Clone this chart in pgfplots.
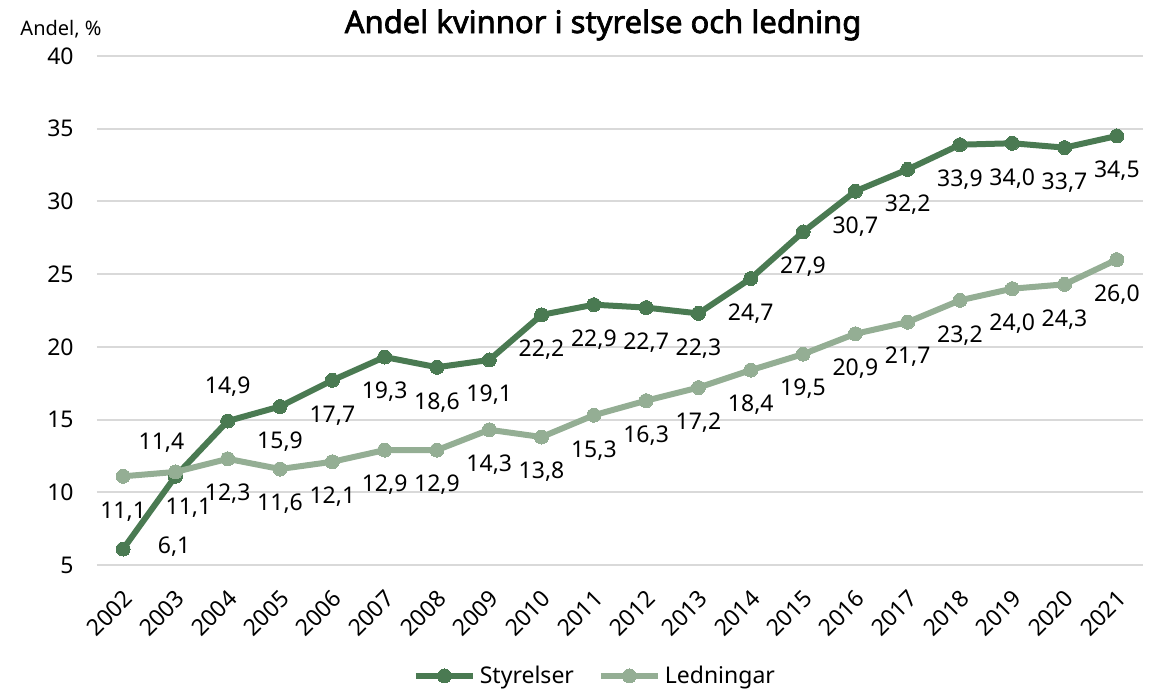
\documentclass[border=0pt]{standalone}
\usepackage{fontspec}
\setmainfont{Noto Sans}
\newfontfamily\titlefont{Noto Sans}[FakeBold=2.2]
\usepackage{pgfplots}
\usepackage{pgfplotstable}
\pgfplotsset{compat=1.18}
\definecolor{dgreen}{HTML}{4A7A52}
\definecolor{lgreen}{HTML}{94AE94}
\definecolor{gridgray}{HTML}{D9D9D9}

\pgfplotstableread{
x y dx dy
2002 6.1 25.5 1
2003 11.1 6.5 -15.5
2004 14.9 0 17
2005 15.9 0 -17.5
2006 17.7 0 -17.5
2007 19.3 0 -17.5
2008 18.6 0 -17.5
2009 19.1 0 -17.5
2010 22.2 0 -17.5
2011 22.9 0 -17.5
2012 22.7 0 -17.5
2013 22.3 0 -17.5
2014 24.7 0 -17.5
2015 27.9 0 -17.5
2016 30.7 0 -17.5
2017 32.2 0 -17.5
2018 33.9 0 -17.5
2019 34.0 0 -17.5
2020 33.7 0 -17.5
2021 34.5 0 -17.5
}\styrelser

\pgfplotstableread{
x y dx dy
2002 11.1 0 -17.5
2003 11.4 -7 14.5
2004 12.3 0 -17.5
2005 11.6 0 -17.5
2006 12.1 0 -17.5
2007 12.9 0 -17.5
2008 12.9 0 -17.5
2009 14.3 0 -17.5
2010 13.8 0 -17.5
2011 15.3 0 -17.5
2012 16.3 0 -17.5
2013 17.2 0 -17.5
2014 18.4 0 -17.5
2015 19.5 0 -17.5
2016 20.9 0 -17.5
2017 21.7 0 -17.5
2018 23.2 0 -17.5
2019 24.0 0 -17.5
2020 24.3 0 -17.5
2021 26.0 0 -17.5
}\ledningar

\begin{document}
\begin{tikzpicture}
\useasboundingbox (-48.5pt,-63.5pt) rectangle (531.5pt,282.5pt);
\begin{axis}[
  at={(0,0)}, anchor=origin,
  scale only axis,
  width=523pt, height=254.5pt,
  xmin=2001.5, xmax=2021.5,
  ymin=5, ymax=40,
  ytick={5,10,...,40},
  xtick={2002,...,2021},
  /pgf/number format/assume math mode=true,
  xticklabel={\pgfmathprintnumber[1000 sep={}]{\tick}},
  yticklabel style={font=\fontsize{11.5}{13}\selectfont, anchor=east, inner sep=0pt, xshift=-11.5pt},
  xticklabel style={font=\fontsize{11.5}{13}\selectfont, xshift=-0.5pt, yshift=-11.6pt, rotate=45, anchor=north east, inner sep=0pt},
  axis line style={draw=none},
  major tick length=0pt,
  ymajorgrids,
  grid style={gridgray, line width=1pt},
  clip=false,
  legend style={at={(0.477,-0.218)}, anchor=center, draw=none, fill=none,
    legend columns=2, font=\fontsize{11.5}{13}\selectfont,
    /tikz/every even column/.append style={column sep=10pt}},
  legend image code/.code={\draw[mark repeat=2,mark phase=2,#1] plot coordinates {(0cm,0cm) (0.5cm,0cm) (1.0cm,0cm)};},
  nodes near coords={\pgfmathprintnumber[fixed,fixed zerofill,precision=1,use comma]{\pgfplotspointmeta}},
  visualization depends on={\thisrow{dx} \as \labdx},
  visualization depends on={\thisrow{dy} \as \labdy},
  every node near coord/.append style={anchor=center, inner sep=0pt, text=black,
    font=\fontsize{11.5}{13}\selectfont, xshift=\labdx pt, yshift=\labdy pt},
]
\addplot[dgreen, line width=3pt, mark=*, mark size=3.5pt, mark options={fill=dgreen, draw=dgreen, line width=0pt}] table[x=x,y=y] {\styrelser};
\addlegendentry{Styrelser}
\addplot[lgreen, line width=3pt, mark=*, mark size=3.5pt, mark options={fill=lgreen, draw=lgreen, line width=0pt}] table[x=x,y=y] {\ledningar};
\addlegendentry{Ledningar}
\node[font=\titlefont\fontsize{15.5}{18}\selectfont, anchor=center] at (rel axis cs:0.4838,1.061) {Andel kvinnor i styrelse och ledning};
\node[font=\fontsize{10}{12}\selectfont, anchor=center] at (rel axis cs:-0.0344,1.053) {Andel, \%};
\end{axis}
\end{tikzpicture}
\end{document}
